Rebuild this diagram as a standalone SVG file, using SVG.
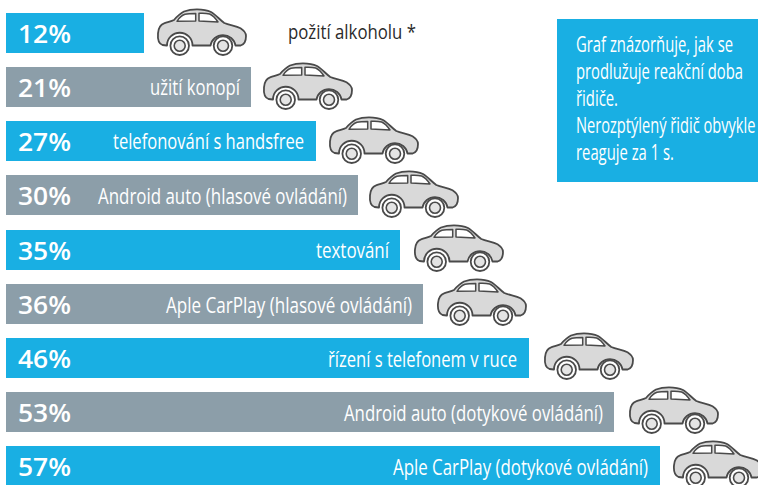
<svg xmlns="http://www.w3.org/2000/svg" width="758" height="485" viewBox="0 0 758 485">
<style>
.b{fill:#19afe3}.g{fill:#8c9ea9}
.p{font:600 26px "Open Sans",sans-serif;fill:#fff}
.l{font:400 21.5px "Open Sans",sans-serif;fill:#fff}
.d{font:400 19.5px "Open Sans",sans-serif;fill:#2a2a2a}
.body{fill:#d9d9d9;stroke:#4a4a4a;stroke-width:1.8;stroke-linejoin:round}
.win{fill:#fff;stroke:#4a4a4a;stroke-width:1.5;stroke-linejoin:round}
.w{fill:#fff;stroke:#4a4a4a;stroke-width:1.8}
.h{fill:#e4e4e4;stroke:#4a4a4a;stroke-width:1.6}
</style>
<defs>
<g id="car">
<path class="body" d="M9.7,36.500 L5.5,36 C1.5,34.500 0.5,30 1,24.3 C1.5,18 3.5,15.5 7,14.3 C11,12.8 14,12.5 17,11 C20,7.500 23,4.500 27,2.500 C32,0.500 36,0.300 40,0.300 C45,0.300 50,1 54,3 C59,6 63,11 67.300,14 C73,16.500 79,16.500 83.500,19.300 C87,21.500 89,24 89,27 C89,32 87,35.500 83.700,36.500 L78.500,36.500 A12.700,12.700 0 0 0 53.500,36.500 L35.500,36.500 A12.700,12.700 0 0 0 10,36.500 Z"/>
<path class="win" d="M20,12.300 C22,9 24.500,6.500 28,5.300 C31,4.600 35,4.500 38.700,4.500 L38.700,12 Z"/>
<path class="win" d="M42,4.300 C45.500,4 49.500,4.200 52.700,5 C56,6.500 59,10 61,13 L42,12 Z"/>
<circle class="w" cx="22.700" cy="36.700" r="9.300"/><circle class="h" cx="22.700" cy="36.700" r="5.500"/>
<circle class="w" cx="66" cy="36.700" r="9.300"/><circle class="h" cx="66" cy="36.700" r="5.500"/>
</g>
</defs>
<rect width="758" height="485" fill="#fff"/>
<g id="n1"><rect class="b" x="6" y="13" width="138" height="40"/><text class="p" x="18" y="43" textLength="53" lengthAdjust="spacingAndGlyphs">12%</text><use href="#car" x="157" y="9"/><text class="d" x="288" y="39" textLength="128" lengthAdjust="spacingAndGlyphs">požití alkoholu *</text></g>
<g id="n2"><rect class="g" x="6" y="67" width="245" height="40"/><text class="p" x="18" y="97" textLength="53" lengthAdjust="spacingAndGlyphs">21%</text><text class="l" x="150" y="95" textLength="90" lengthAdjust="spacingAndGlyphs">užití konopí</text><use href="#car" x="263" y="63"/></g>
<g id="n3"><rect class="b" x="6" y="121" width="310" height="40"/><text class="p" x="18" y="151" textLength="53" lengthAdjust="spacingAndGlyphs">27%</text><text class="l" x="113" y="149" textLength="191" lengthAdjust="spacingAndGlyphs">telefonování s handsfree</text><use href="#car" x="329" y="117"/></g>
<g id="n4"><rect class="g" x="6" y="175" width="352" height="40"/><text class="p" x="18" y="205" textLength="53" lengthAdjust="spacingAndGlyphs">30%</text><text class="l" x="98" y="203.500" textLength="249" lengthAdjust="spacingAndGlyphs">Android auto (hlasové ovládání)</text><use href="#car" x="369" y="171"/></g>
<g id="n5"><rect class="b" x="6" y="230" width="394" height="40"/><text class="p" x="18" y="260" textLength="53" lengthAdjust="spacingAndGlyphs">35%</text><text class="l" x="316" y="258" textLength="73" lengthAdjust="spacingAndGlyphs">textování</text><use href="#car" x="414" y="225"/></g>
<g id="n6"><rect class="g" x="6" y="284" width="417" height="40"/><text class="p" x="18" y="314" textLength="53" lengthAdjust="spacingAndGlyphs">36%</text><text class="l" x="166" y="312.500" textLength="246" lengthAdjust="spacingAndGlyphs">Aple CarPlay (hlasové ovládání)</text><use href="#car" x="437" y="279"/></g>
<g id="n7"><rect class="b" x="6" y="338" width="523" height="40"/><text class="p" x="18" y="368" textLength="53" lengthAdjust="spacingAndGlyphs">46%</text><text class="l" x="328" y="367" textLength="189" lengthAdjust="spacingAndGlyphs">řízení s telefonem v ruce</text><use href="#car" x="544" y="333"/></g>
<g id="n8"><rect class="g" x="6" y="392" width="608" height="40"/><text class="p" x="18" y="422" textLength="53" lengthAdjust="spacingAndGlyphs">53%</text><text class="l" x="344" y="420.500" textLength="259" lengthAdjust="spacingAndGlyphs">Android auto (dotykové ovládání)</text><use href="#car" x="629" y="387"/></g>
<g id="n9"><rect class="b" x="6" y="446" width="654" height="39"/><text class="p" x="18" y="476" textLength="53" lengthAdjust="spacingAndGlyphs">57%</text><text class="l" x="393" y="474.500" textLength="255" lengthAdjust="spacingAndGlyphs">Aple CarPlay (dotykové ovládání)</text><use href="#car" x="673" y="441"/></g>
<g id="note"><rect class="b" x="557" y="19" width="201" height="163"/>
<text class="l" transform="translate(576,52) scale(.7,1)" textLength="224.300" lengthAdjust="spacingAndGlyphs">Graf znázorňuje, jak se</text>
<text class="l" transform="translate(576,79) scale(.7,1)" textLength="238.600" lengthAdjust="spacingAndGlyphs">prodlužuje reakční doba</text>
<text class="l" transform="translate(576,106) scale(.7,1)" textLength="60" lengthAdjust="spacingAndGlyphs">řidiče.</text>
<text class="l" transform="translate(576,133) scale(.685,1)" textLength="262" lengthAdjust="spacingAndGlyphs">Nerozptýlený řidič obvykle</text>
<text class="l" transform="translate(576,160) scale(.7,1)" textLength="140" lengthAdjust="spacingAndGlyphs">reaguje za 1 s.</text></g>
</svg>
